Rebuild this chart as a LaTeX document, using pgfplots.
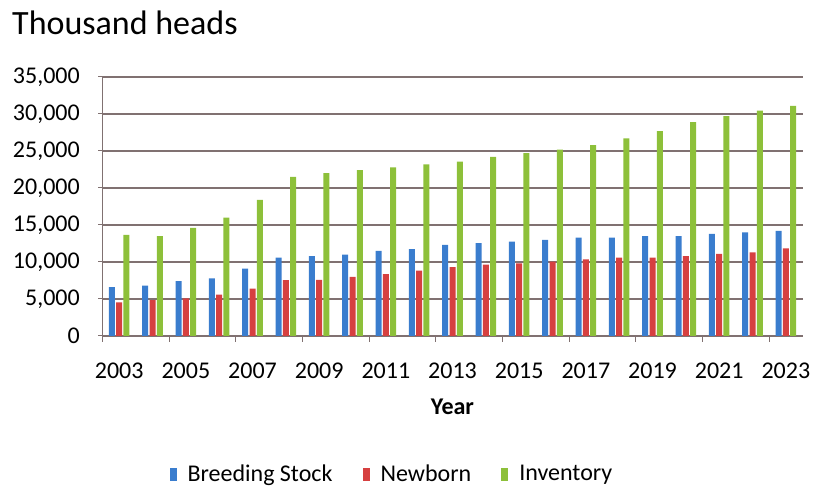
\documentclass[border=0pt]{standalone}
\usepackage{pgfplots}
\usepackage{pgfplotstable}
\usepackage{fontspec}
\pgfplotsset{compat=1.18}
\setmainfont{Carlito}

\definecolor{stockblue}{RGB}{58,125,206}
\definecolor{newbornred}{RGB}{214,64,64}
\definecolor{invgreen}{RGB}{141,192,58}
\definecolor{gridbrown}{RGB}{128,113,113}

% idx, year, breeding stock, newborn, inventory (thousand heads)
\pgfplotstableread{
idx year stock newborn inventory
0  2003 6600  4550  13650
1  2004 6800  4850  13500
2  2005 7400  5100  14600
3  2006 7800  5600  16000
4  2007 9100  6400  18400
5  2008 10600 7550  21500
6  2009 10800 7600  22000
7  2010 11000 8000  22400
8  2011 11500 8350  22800
9  2012 11750 8850  23200
10 2013 12300 9300  23550
11 2014 12550 9650  24200
12 2015 12750 9800  24700
13 2016 13000 10050 25200
14 2017 13300 10350 25800
15 2018 13300 10600 26700
16 2019 13500 10600 27700
17 2020 13500 10800 28900
18 2021 13800 11100 29700
19 2022 14000 11300 30450
20 2023 14200 11850 31100
}\herd

\begin{document}
\fontsize{24pt}{28pt}\selectfont
\begin{tikzpicture}[x=1pt,y=1pt]
\path[use as bounding box] (0,0) rectangle (814,486);
\node[anchor=base west, inner sep=0pt, font=\fontsize{34pt}{38pt}\selectfont] at (12,451) {Thousand heads};
\begin{axis}[
  at={(102.5pt,150pt)}, anchor=south west,
  scale only axis, width=700pt, height=259pt,
  ybar=1.3pt, bar width=6pt,
  xmin=-0.5, xmax=20.5,
  ymin=0, ymax=35000,
  xtick={0,2,...,20},
  xticklabels={2003,2005,2007,2009,2011,2013,2015,2017,2019,2021,2023},
  minor xtick={-0.5,1.5,...,19.5},
  ytick={0,5000,...,35000},
  scaled y ticks=false,
  /pgf/number format/.cd, 1000 sep={,}, assume math mode=true, /pgfplots/.cd,
  axis x line*=bottom, axis y line*=left,
  axis line style={draw=gridbrown, line width=1.3pt},
  ymajorgrids, major grid style={draw=gridbrown, line width=1.3pt},
  tick align=outside,
  major tick style={draw=gridbrown, line width=1pt},
  minor tick style={draw=gridbrown, line width=1pt},
  major x tick style={draw=none},
  major tick length=4pt, minor tick length=6pt,
  xticklabel style={anchor=base, inner sep=0pt, yshift=-39pt},
  yticklabel style={anchor=east, inner sep=0pt, xshift=-18.5pt},
  xlabel={\bfseries Year},
  xlabel style={at={(axis description cs:0.5,0)}, anchor=base, inner sep=0pt, yshift=-79pt},
  legend columns=3,
  legend style={at={(axis description cs:0.412,-0.537)}, anchor=center,
    draw=none, fill=none, nodes={inner sep=0pt},
    /tikz/every odd column/.append style={column sep=11pt},
    /tikz/every even column/.append style={column sep=30pt}},
  legend image code/.code={\fill[#1] (0pt,-6pt) rectangle (7pt,7pt);},
]
\addplot[draw=none, fill=stockblue] table[x=idx, y=stock] {\herd};
\addplot[draw=none, fill=newbornred] table[x=idx, y=newborn] {\herd};
\addplot[draw=none, fill=invgreen] table[x=idx, y=inventory] {\herd};
\legend{Breeding Stock, Newborn, Inventory}
\end{axis}
\end{tikzpicture}
\end{document}
